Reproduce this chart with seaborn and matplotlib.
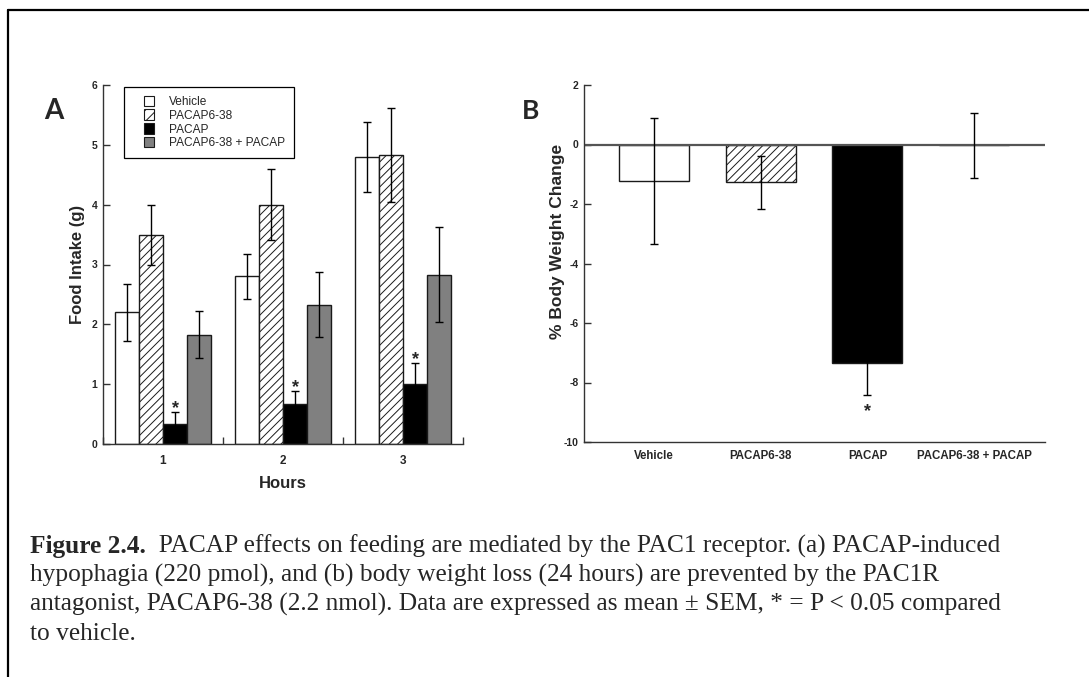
import numpy as np
import pandas as pd
import matplotlib
matplotlib.use("Agg")
import matplotlib.pyplot as plt
import seaborn as sns
from matplotlib.patches import Patch, Rectangle
from matplotlib.lines import Line2D
from matplotlib.legend_handler import HandlerPatch

# ---------------- data ----------------
hours = ["1", "2", "3"]
treatments = ["Vehicle", "PACAP6-38", "PACAP", "PACAP6-38 + PACAP"]

intake_vehicle = [2.20, 2.80, 4.80]
intake_antag = [3.50, 4.00, 4.83]
intake_pacap = [0.33, 0.67, 1.00]
intake_combo = [1.83, 2.33, 2.83]

sem_vehicle = [0.48, 0.37, 0.58]
sem_antag = [0.50, 0.59, 0.79]
sem_pacap = [0.21, 0.21, 0.36]
sem_combo = [0.40, 0.55, 0.79]

significant = [False, False, True, False]   # asterisk marks per treatment

bw_change = [-1.23, -1.27, -7.36, -0.03]
bw_sem = [2.13, 0.90, 1.05, 1.10]

caption_lines = [
    "PACAP effects on feeding are mediated by the PAC1 receptor. (a) PACAP-induced",
    "hypophagia (220 pmol), and (b) body weight loss (24 hours) are prevented by the PAC1R",
    "antagonist, PACAP6-38 (2.2 nmol). Data are expressed as mean \u00b1 SEM, * = P < 0.05 compared",
    "to vehicle.",
]

# ---------------- style ----------------
sns.set_style("ticks")
plt.rcParams["font.family"] = ["Liberation Sans", "DejaVu Sans"]
plt.rcParams["axes.unicode_minus"] = False
plt.rcParams["hatch.linewidth"] = 0.7

face_colors = ["white", "white", "black", "#808080"]
hatches = ["", "////", "", ""]
edge = "#1a1a1a"
spine_col = "#333333"

W, H = 1089, 677
fig = plt.figure(figsize=(W / 100, H / 100), dpi=100)
fig.patch.set_facecolor("white")

def ax_rect(l, t, r, b):
    return [l / W, 1 - b / H, (r - l) / W, (b - t) / H]

# ---------------- panel A ----------------
axA = fig.add_axes(ax_rect(103, 85, 463, 444))
intakes = [intake_vehicle, intake_antag, intake_pacap, intake_combo]
sems = [sem_vehicle, sem_antag, sem_pacap, sem_combo]
dfA = pd.DataFrame({
    "Hours": np.tile(hours, len(treatments)),
    "Treatment": np.repeat(treatments, len(hours)),
    "Intake": np.concatenate(intakes),
})
sns.barplot(data=dfA, x="Hours", y="Intake", hue="Treatment", order=hours,
            hue_order=treatments, errorbar=None, width=0.8, gap=0,
            palette=face_colors, edgecolor=edge, linewidth=1.0,
            saturation=1, legend=False, ax=axA)

bar_conts = list(axA.containers)
for i, cont in enumerate(bar_conts):
    xs = []
    for p in cont.patches:
        p.set_facecolor(face_colors[i])
        p.set_edgecolor(edge)
        p.set_hatch(hatches[i])
        xs.append(p.get_x() + p.get_width() / 2)
    xs = np.array(xs)
    m = np.array(intakes[i]); s = np.array(sems[i])
    axA.errorbar(xs, m, yerr=s, fmt="none", ecolor="black", elinewidth=1.0,
                 capsize=2.6, capthick=1.0, zorder=5)
    if significant[i]:
        for x, top in zip(xs, m + s):
            axA.text(x, top - 0.02, "*", ha="center", va="baseline",
                     fontsize=13, fontweight="bold")

axA.set_ylim(0, 6)
axA.set_xlim(-0.5, 2.5)
axA.set_yticks(range(0, 7))
axA.set_xticks([0, 1, 2])
axA.set_xticks([-0.5, 0.5, 1.5, 2.5], minor=True)
axA.tick_params(axis="y", direction="in", length=5, width=1, color=spine_col,
                labelsize=7.5, pad=4)
axA.tick_params(axis="x", which="major", length=0, labelsize=8.5, pad=8)
axA.tick_params(axis="x", which="minor", direction="in", length=5, width=1,
                color=spine_col)
for lab in axA.get_xticklabels() + axA.get_yticklabels():
    lab.set_fontweight("bold")
sns.despine(ax=axA)
for sp in ["left", "bottom"]:
    axA.spines[sp].set_color(spine_col)
    axA.spines[sp].set_linewidth(1.0)
axA.set_ylabel("Food Intake (g)", fontsize=12, fontweight="bold")
axA.yaxis.set_label_coords(-0.072, 0.5)
axA.yaxis.label.set_verticalalignment("center")
axA.set_xlabel("Hours", fontsize=12, fontweight="bold")
axA.xaxis.set_label_coords(0.5, -0.111)
axA.xaxis.label.set_verticalalignment("center")

# legend with small square handles
def square_patch(legend, orig_handle, xdescent, ydescent, width, height, fontsize):
    sq = 7.5
    return Rectangle((-xdescent + width - sq, -ydescent + (height - sq) / 2), sq, sq)

handles = [Patch(facecolor=face_colors[i], edgecolor=edge, hatch=hatches[i] and "///",
                 linewidth=0.8, label=treatments[i]) for i in range(4)]
leg = axA.legend(handles=handles, loc="upper left",
                 bbox_to_anchor=(124 / W, 1 - 87 / H), bbox_transform=fig.transFigure,
                 borderaxespad=0, fontsize=8.6, frameon=True, fancybox=False,
                 edgecolor="black", framealpha=1, borderpad=0.75,
                 handlelength=1.8, handleheight=0.7, handletextpad=1.25,
                 labelspacing=0.15,
                 handler_map={Patch: HandlerPatch(patch_func=square_patch)})
leg.get_frame().set_linewidth(0.9)

# ---------------- panel B ----------------
axB = fig.add_axes(ax_rect(584, 85, 1045, 442))
dfB = pd.DataFrame({"Treatment": treatments, "Change": bw_change})
sns.barplot(data=dfB, x="Treatment", y="Change", order=treatments, hue="Treatment",
            hue_order=treatments, palette=face_colors, errorbar=None, width=0.656,
            saturation=1, edgecolor=edge, linewidth=1.0, legend=False, ax=axB)
bx = []
for i, cont in enumerate(list(axB.containers)):
    for p in cont.patches:
        p.set_facecolor(face_colors[i])
        p.set_edgecolor(edge)
        p.set_hatch(hatches[i])
        bx.append(p.get_x() + p.get_width() / 2)
bx = np.array(bx)
bm = np.array(bw_change); bs = np.array(bw_sem)
axB.axhline(0, color="#555555", lw=1.6, zorder=1.5)
axB.errorbar(bx, bm, yerr=bs, fmt="none", ecolor="black", elinewidth=1.0,
             capsize=2.6, capthick=1.0, zorder=5)
for x, lo, sig in zip(bx, bm - bs, significant):
    if sig:
        axB.text(x, lo - 0.72, "*", ha="center", va="baseline",
                 fontsize=13, fontweight="bold")
axB.set_ylim(-10, 2)
axB.set_xlim(-0.655, 3.664)
axB.set_yticks(range(-10, 3, 2))
axB.tick_params(axis="y", direction="in", length=5, width=1, color=spine_col,
                labelsize=7.5, pad=4)
axB.tick_params(axis="x", length=0, labelsize=8.3, pad=6)
for lab in axB.get_xticklabels() + axB.get_yticklabels():
    lab.set_fontweight("bold")
sns.despine(ax=axB)
for sp in ["left", "bottom"]:
    axB.spines[sp].set_color(spine_col)
    axB.spines[sp].set_linewidth(1.0)
axB.set_xlabel("")
axB.set_ylabel("% Body Weight Change", fontsize=12.5, fontweight="bold")
axB.yaxis.set_label_coords(-0.058, 0.563)
axB.yaxis.label.set_verticalalignment("center")

# ---------------- panel letters ----------------
fig.text(54 / W, 1 - 111 / H, "A", fontsize=20, fontweight="bold",
         family=["Lato", "DejaVu Sans"], ha="center", va="center")
fig.text(531 / W, 1 - 111 / H, "B", fontsize=19, fontweight="bold",
         family=["Lato", "DejaVu Sans"], ha="center", va="center")

# ---------------- border ----------------
fig.add_artist(Line2D([8 / W, 1.0], [1 - 10 / H, 1 - 10 / H], color="black",
                      lw=1.6, transform=fig.transFigure))
fig.add_artist(Line2D([8 / W, 8 / W], [1 - 10 / H, 0], color="black",
                      lw=1.6, transform=fig.transFigure))

# ---------------- caption ----------------
cap_font = ["Liberation Serif", "DejaVu Serif"]
cap_size = 18.3
baselines = [553, 582, 611, 640]
renderer = fig.canvas.get_renderer()
t0 = fig.text(30 / W, 1 - baselines[0] / H, "Figure 2.4.", family=cap_font,
              fontsize=cap_size, fontweight="bold", va="baseline", ha="left")
bb = t0.get_window_extent(renderer)
fig.text(bb.x1 / W, 1 - baselines[0] / H, "  " + caption_lines[0], family=cap_font,
         fontsize=cap_size, va="baseline", ha="left")
for line, yb in zip(caption_lines[1:], baselines[1:]):
    fig.text(30 / W, 1 - yb / H, line, family=cap_font, fontsize=cap_size,
             va="baseline", ha="left")

fig.savefig("out.png", dpi=100, facecolor="white")
